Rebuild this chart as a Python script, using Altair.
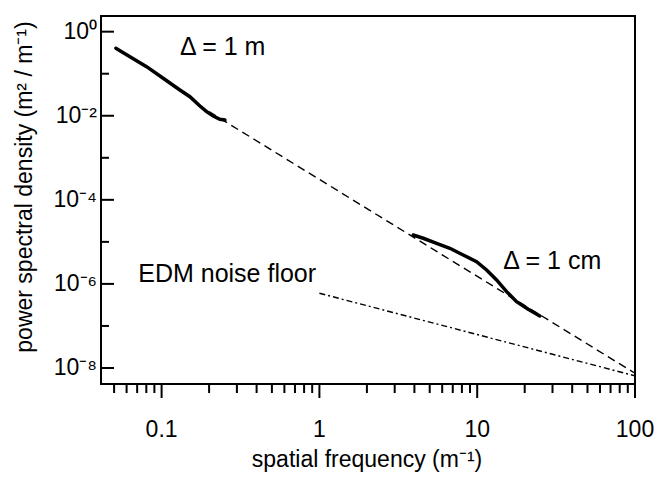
import altair as alt
import pandas as pd

# ---- data ----
# measured spectrum, sampling interval 1 m
m_freq = [0.0513, 0.0630, 0.0803, 0.1023, 0.1306, 0.1511, 0.1749, 0.1929, 0.2123, 0.2341, 0.2518]
m_psd = [0.403, 0.254, 0.147, 0.0779, 0.0410, 0.0284, 0.01708, 0.0125, 0.00988, 0.00824, 0.00794]

# measured spectrum, sampling interval 1 cm
cm_freq = [3.93, 4.55, 5.53, 6.71, 8.15, 9.91, 11.47, 13.27, 15.36, 17.77, 21.05, 24.96]
cm_psd = [1.46e-5, 1.22e-5, 9.26e-6, 7.05e-6, 4.88e-6, 3.38e-6, 2.15e-6, 1.24e-6, 6.54e-7, 3.78e-7, 2.49e-7, 1.73e-7]

# dashed power-law fit (end points)
fit_freq = [0.2, 100]
fit_psd = [0.0125, 7.5e-9]

# EDM noise floor (dash-dot, end points)
noise_freq = [1, 100]
noise_psd = [6.0e-7, 6.5e-9]

# annotations
label_text = ["Δ = 1 m", "Δ = 1 cm", "EDM noise floor"]
label_freq = [0.1306, 14.62, 0.0711]
label_psd = [0.279, 2.27e-6, 1.13e-6]

# axes
x_domain = [0.0413, 100]
y_domain = [4.16e-9, 2.36]
x_major = [0.1, 1, 10, 100]
x_major_labels = ["0.1", "1", "10", "100"]
x_minor = [0.05, 0.06, 0.07, 0.08, 0.09,
           0.2, 0.3, 0.4, 0.5, 0.6, 0.7, 0.8, 0.9,
           2, 3, 4, 5, 6, 7, 8, 9,
           20, 30, 40, 50, 60, 70, 80, 90]
y_major = [1, 1e-2, 1e-4, 1e-6, 1e-8]
y_major_labels = ["10⁰", "10⁻²", "10⁻⁴", "10⁻⁶", "10⁻⁸"]
y_minor = [1e-1, 1e-3, 1e-5, 1e-7]

x_title = ["spatial frequency (m⁻¹)"]
y_title = ["power spectral density (m² / m⁻¹)"]

FONT = "Liberation Sans"
W, H = 534, 368

xs = alt.Scale(type="log", domain=x_domain, nice=False)
ys = alt.Scale(type="log", domain=y_domain, nice=False)

X = alt.X("f:Q", scale=xs, axis=None)
Y = alt.Y("p:Q", scale=ys, axis=None)

fit_df = pd.DataFrame({"f": fit_freq, "p": fit_psd})
noise_df = pd.DataFrame({"f": noise_freq, "p": noise_psd})
m_df = pd.DataFrame({"f": m_freq, "p": m_psd})
cm_df = pd.DataFrame({"f": cm_freq, "p": cm_psd})
lab_df = pd.DataFrame({"f": label_freq, "p": label_psd, "t": label_text})
ymaj_df = pd.DataFrame({"p": y_major, "t": y_major_labels})
ymin_df = pd.DataFrame({"p": y_minor})
xmaj_df = pd.DataFrame({"f": x_major, "t": x_major_labels})
xmin_df = pd.DataFrame({"f": x_minor})
xtitle_df = pd.DataFrame({"t": x_title})
ytitle_df = pd.DataFrame({"t": y_title})

fit = alt.Chart(fit_df).mark_line(color="black", strokeWidth=1.4, strokeDash=[8, 5]).encode(x=X, y=Y)

noise = alt.Chart(noise_df).mark_line(
    color="black", strokeWidth=1.4, strokeDash=[6, 3, 2, 3]).encode(x=X, y=Y)

m_line = alt.Chart(m_df).mark_line(color="black", strokeWidth=3.5, strokeCap="round").encode(x=X, y=Y)

cm_line = alt.Chart(cm_df).mark_line(color="black", strokeWidth=3.5, strokeCap="round").encode(x=X, y=Y)

# left axis: inward ticks (major 13 px, minor 8 px) and labels
ymaj_ticks = alt.Chart(ymaj_df).mark_rule(color="black", strokeWidth=2).encode(
    y=Y, x=alt.value(0), x2=alt.value(13))
ymin_ticks = alt.Chart(ymin_df).mark_rule(color="black", strokeWidth=2).encode(
    y=Y, x=alt.value(0), x2=alt.value(8))
ymaj_labels = alt.Chart(ymaj_df).mark_text(
    align="right", baseline="middle", font=FONT, fontSize=23, color="black"
).encode(y=Y, x=alt.value(-4), text="t:N")

# bottom axis: outward ticks (major 14 px, minor 9 px) and labels
xmaj_ticks = alt.Chart(xmaj_df).mark_rule(color="black", strokeWidth=2).encode(
    x=X, y=alt.value(H), y2=alt.value(H + 14))
xmin_ticks = alt.Chart(xmin_df).mark_rule(color="black", strokeWidth=2).encode(
    x=X, y=alt.value(H), y2=alt.value(H + 9))
xmaj_labels = alt.Chart(xmaj_df).mark_text(
    align="center", baseline="alphabetic", font=FONT, fontSize=23, color="black"
).encode(x=X, y=alt.value(H + 53), text="t:N")

# axis titles
x_title_mark = alt.Chart(xtitle_df).mark_text(
    align="center", baseline="alphabetic", font=FONT, fontSize=23, color="black"
).encode(x=alt.value(266), y=alt.value(H + 83), text="t:N")
y_title_mark = alt.Chart(ytitle_df).mark_text(
    align="center", baseline="alphabetic", font=FONT, fontSize=23, color="black", angle=270
).encode(x=alt.value(-69), y=alt.value(171), text="t:N")

labels = alt.Chart(lab_df).mark_text(
    align="left", baseline="alphabetic", font=FONT, fontSize=25, color="black"
).encode(x=X, y=Y, text="t:N")

chart = alt.layer(
    fit, noise, m_line, cm_line,
    ymaj_ticks, ymin_ticks, ymaj_labels,
    xmaj_ticks, xmin_ticks, xmaj_labels,
    x_title_mark, y_title_mark, labels
).properties(
    width=W, height=H,
    autosize=alt.AutoSizeParams(type="none"),
    padding={"left": 101, "top": 16, "right": 24, "bottom": 93},
    background="white",
).configure_view(stroke="black", strokeWidth=2)

chart.save("out.html", embed_options={"renderer": "svg", "actions": False})
